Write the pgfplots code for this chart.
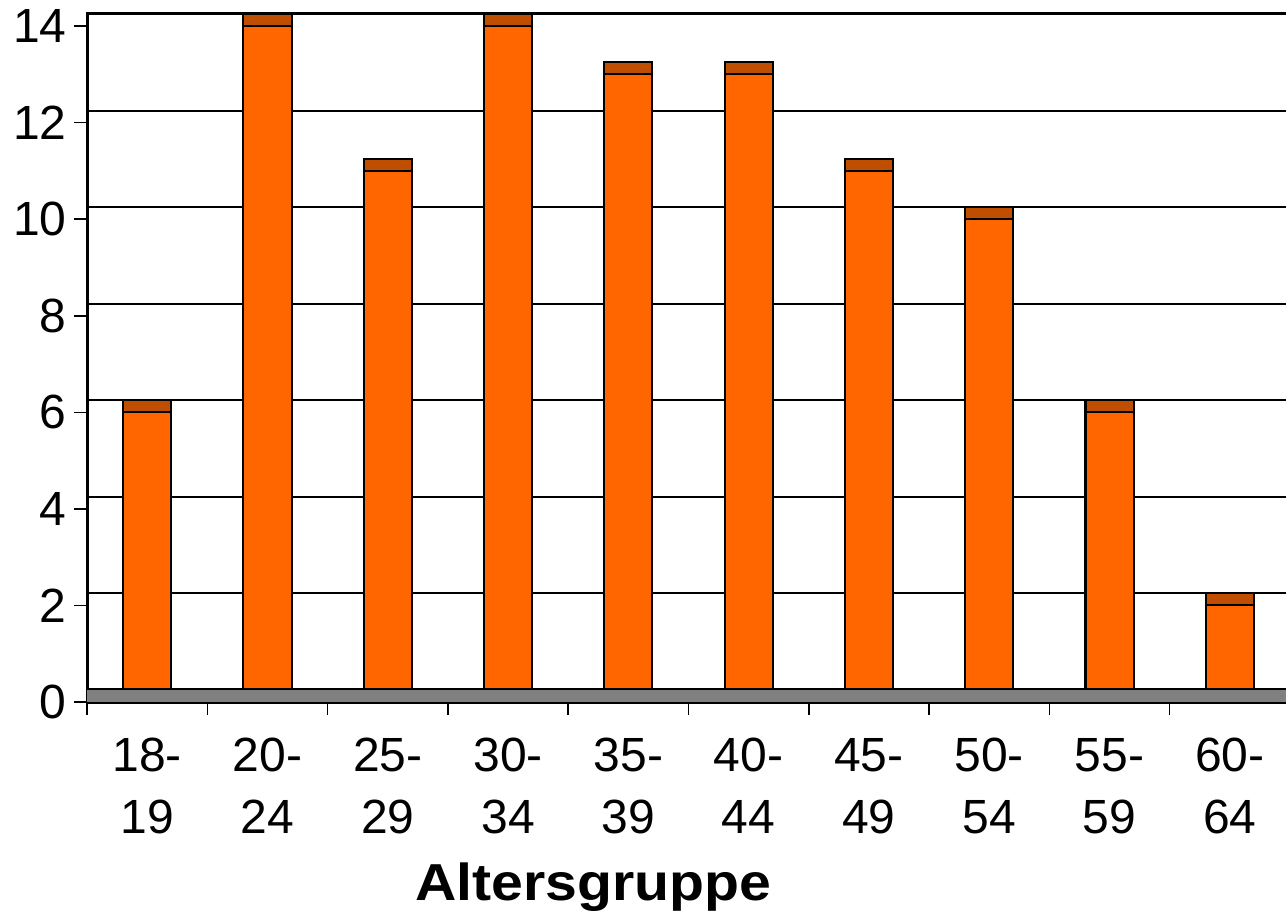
\documentclass[border=0pt]{standalone}
\usepackage{fontspec}
\setmainfont{Liberation Sans}
\usepackage{graphicx}
\usepackage{pgfplots}
\pgfplotsset{compat=1.18}
\definecolor{barorange}{HTML}{FF6600}
\definecolor{capbrown}{HTML}{C04E00}
\definecolor{floorgray}{HTML}{808080}
\begin{document}
\begin{tikzpicture}
\begin{axis}[
  at={(43.5pt,107.5pt)}, anchor=south west,
  scale only axis, width=601.5pt, height=344pt,
  xmin=0.5, xmax=10.5, ymin=0, ymax=14.25,
  ybar stacked, bar width=0.4,
  axis line style={line width=1.5pt},
  tick align=outside,
  major tick length=6.5pt,
  tick style={black, line width=0.75pt},
  ytick={0,2,...,14}, ytick pos=left,
  xtick={0.5,1.5,...,10.5}, xticklabels={}, xtick pos=bottom,
  yticklabel style={font=\fontsize{24}{28}\selectfont, /pgf/number format/assume math mode=true, anchor=east, inner sep=0pt, xshift=-3.5pt},
  extra x ticks={1,2,3,4,5,6,7,8,9,10},
  extra x tick labels={{18-\\19},{20-\\24},{25-\\29},{30-\\34},{35-\\39},{40-\\44},{45-\\49},{50-\\54},{55-\\59},{60-\\64}},
  extra x tick style={major tick length=0pt, xticklabel style={align=center, font=\fontsize{24}{31}\selectfont, anchor=north, inner sep=0pt, yshift=-18pt}},
  extra y ticks={2.25,4.25,6.25,8.25,10.25,12.25},
  extra y tick labels={},
  extra y tick style={major tick length=0pt, grid=major, major grid style={black, line width=1pt}},
]
\fill[floorgray] (axis cs:0.5,0) rectangle (axis cs:10.5,0.25);
\draw[line width=1.6pt] (axis cs:0.5,0.25) -- (axis cs:10.5,0.25);
\addplot[fill=barorange, draw=black, line width=1pt] coordinates {(1,6) (2,14) (3,11) (4,14) (5,13) (6,13) (7,11) (8,10) (9,6) (10,2)};
\addplot[fill=capbrown, draw=black, line width=1pt] coordinates {(1,0.25) (2,0.25) (3,0.25) (4,0.25) (5,0.25) (6,0.25) (7,0.25) (8,0.25) (9,0.25) (10,0.25)};
\end{axis}
\node[anchor=base west, inner sep=0pt, font=\bfseries\fontsize{26}{30}\selectfont] at (207.5pt,8.5pt) {\scalebox{1.1}[1]{Altersgruppe}};
\pgfresetboundingbox
\path[use as bounding box] (0,0) rectangle (643pt,458.5pt);
\end{tikzpicture}
\end{document}
